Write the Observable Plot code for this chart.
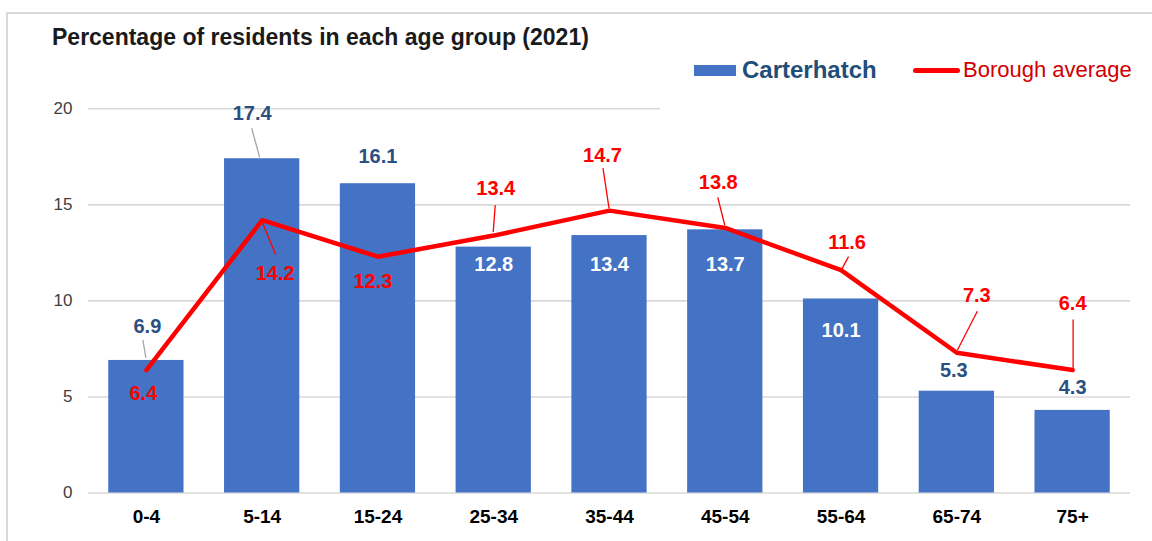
<!DOCTYPE html>
<html>
<head>
<meta charset="utf-8">
<script src="https://cdn.jsdelivr.net/npm/d3@7"></script>
<script src="https://cdn.jsdelivr.net/npm/@observablehq/plot@0.6"></script>
<style>
  html, body { margin: 0; padding: 0; background: #fff; }
  #wrap { position: relative; width: 1152px; height: 541px; overflow: hidden; font-family: "Liberation Sans", Arial, sans-serif; }
  #frame { position: absolute; left: 6px; top: 12px; width: 1200px; height: 600px; border-left: 2px solid #d9d9d9; border-top: 2px solid #d9d9d9; }
  #chart { position: absolute; left: 0; top: 0; }
  #title { position: absolute; left: 52px; top: 24px; font-size: 23px; font-weight: bold; color: #1a1a1a; white-space: nowrap; }
  #legend { position: absolute; left: 660px; top: 48px; width: 485px; height: 63px; background: #fff; }
  .sw-bar { position: absolute; left: 34px; top: 17px; width: 42px; height: 11px; background: #4472C4; }
  .lab1 { position: absolute; left: 82px; top: 8px; font-size: 24px; font-weight: bold; color: #1F4E79; white-space: nowrap; }
  .sw-line { position: absolute; left: 253px; top: 19.5px; width: 47px; height: 5px; border-radius: 3px; background: #FF0000; }
  .lab2 { position: absolute; left: 303px; top: 9px; font-size: 22px; color: #D00000; white-space: nowrap; }
</style>
</head>
<body>
<div id="wrap">
  <div id="frame"></div>
  <div id="chart"></div>
  <div id="title">Percentage of residents in each age group (2021)</div>
  <div id="legend">
    <div class="sw-bar"></div><div class="lab1">Carterhatch</div>
    <div class="sw-line"></div><div class="lab2">Borough average</div>
  </div>
</div>
<script>
// ---- data ----
const ageGroups = ["0-4", "5-14", "15-24", "25-34", "35-44", "45-54", "55-64", "65-74", "75+"];
const carterhatch = [6.9, 17.4, 16.1, 12.8, 13.4, 13.7, 10.1, 5.3, 4.3];
const borough = [6.4, 14.2, 12.3, 13.4, 14.7, 13.8, 11.6, 7.3, 6.4];
const yTicks = [0, 5, 10, 15, 20];

// ---- label layout (pixel offsets from each value's anchor) ----
const barLabelDx = [1, -10, 0, 0, 0, 0, 0, -3, 0];
const barLabelDy = [-34, -45, -27, 17, 29, 35, 32, -21, -23];
const barLabelInside = [false, false, false, true, true, true, true, false, false];
const boroLabelDx = [-3, 13, -5, 2, -7, -7, 6, 20, 0];
const boroLabelDy = [24, 53, 25, -47, -55, -45, -28, -57, -66];
// leaders: [index, sx, sy, ex, ey]
const barLeaders = [[0, -3, -20, 0, -2], [1, -10, -30, -2, -1]];
const boroLeaders = [[1, 0, 1, 14, 35], [3, 2, -30, 0, -3], [4, -6, -42, 0, -2], [5, -7, -30, 0, -2],
                     [6, 8, -13, 1, 0], [7, 21, -41, 1, -2], [8, 1, -50, 1, -1]];

const FONT = "Liberation Sans, Arial, sans-serif";
const idx = ageGroups.map((_, i) => i);

function leaderMark(list, series, color, width) {
  return (index, scales, values, dimensions, context) => {
    const sx = scales.x, sy = scales.y;
    const bw = typeof sx.bandwidth === "function" ? sx.bandwidth() : 0;
    const g = d3.create("svg:g");
    for (const [i, a, b, c, d] of list) {
      const cx = sx(ageGroups[i]) + bw / 2;
      const cy = sy(series[i]);
      g.append("line")
        .attr("x1", cx + a).attr("y1", cy + b)
        .attr("x2", cx + c).attr("y2", cy + d)
        .attr("stroke", color).attr("stroke-width", width);
    }
    return g.node();
  };
}

const marks = [
  Plot.gridY(yTicks, {stroke: "#d9d9d9", strokeOpacity: 1, strokeWidth: 1.6}),
  Plot.barY(idx, {x: i => ageGroups[i], y: i => carterhatch[i], fill: "#4472C4"}),
  leaderMark(barLeaders, carterhatch, "#a6a6a6", 1.3)
];
idx.forEach(i => {
  marks.push(Plot.text([i], {
    x: d => ageGroups[d], y: d => carterhatch[d], text: d => carterhatch[d].toFixed(1),
    dx: barLabelDx[i], dy: barLabelDy[i],
    fill: barLabelInside[i] ? "#ffffff" : "#2A5082",
    fontSize: 20, fontWeight: "bold", fontFamily: FONT
  }));
});
marks.push(Plot.line(idx, {x: i => ageGroups[i], y: i => borough[i], stroke: "#FF0000", strokeWidth: 4.5, strokeLinejoin: "round", strokeLinecap: "round"}));
marks.push(leaderMark(boroLeaders, borough, "#FF0000", 1.3));
idx.forEach(i => {
  marks.push(Plot.text([i], {
    x: d => ageGroups[d], y: d => borough[d], text: d => borough[d].toFixed(1),
    dx: boroLabelDx[i], dy: boroLabelDy[i],
    fill: "#FF0000", fontSize: 20, fontWeight: "bold", fontFamily: FONT
  }));
});
marks.push(Plot.axisY(yTicks, {tickSize: 0, tickPadding: 16, fontSize: 17, fill: "#404040", fontFamily: FONT, label: null}));
marks.push(Plot.axisX({tickSize: 0, tickPadding: 16, fontSize: 19, fontWeight: "bold", fill: "#000", fontFamily: FONT, label: null}));

const chart = Plot.plot({
  width: 1152,
  height: 541,
  marginLeft: 88,
  marginRight: 22,
  marginTop: 108.3,
  marginBottom: 48.5,
  style: {background: "transparent", fontFamily: FONT},
  x: {domain: ageGroups, paddingInner: 0.35, paddingOuter: 0.175, round: false, label: null},
  y: {domain: [0, 20], label: null},
  marks
});
document.getElementById("chart").appendChild(chart);
</script>
</body>
</html>
